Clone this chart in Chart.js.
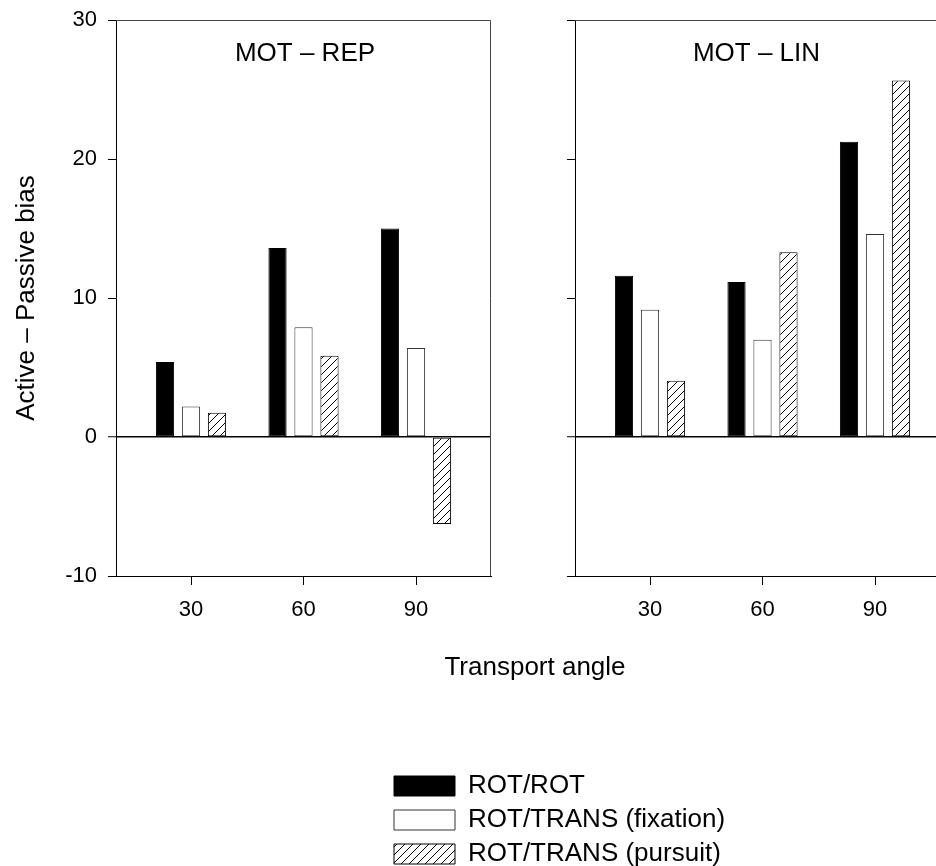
<!DOCTYPE html>
<html>
<head>
<meta charset="utf-8">
<script src="https://cdn.jsdelivr.net/npm/chart.js@4.4.0/dist/chart.umd.min.js"></script>
<style>
    html, body { margin: 0; padding: 0; background: #fff; overflow: hidden; width: 936px; height: 866px; }
    .panel { position: absolute; }
</style>
</head>
<body>
<div class="panel" style="left:0;top:0;width:500px;height:630px"><canvas id="repChart"></canvas></div>
<div class="panel" style="left:459px;top:0;width:500px;height:630px"><canvas id="linChart"></canvas></div>
<div class="panel" style="left:0;top:633px;width:936px;height:244px"><canvas id="legendChart"></canvas></div>
<script>
// values
const angles = [30, 60, 90];
const seriesLabels = ['ROT/ROT', 'ROT/TRANS (fixation)', 'ROT/TRANS (pursuit)'];

const repRotRot = [5.4, 13.6, 15.0];
const repFixation = [2.2, 7.9, 6.4];
const repPursuit = [1.75, 5.85, -6.25];

const linRotRot = [11.6, 11.15, 21.25];
const linFixation = [9.15, 7.0, 14.6];
const linPursuit = [4.05, 13.3, 25.65];

const yTicks = [-10, 0, 10, 20, 30];

Chart.defaults.font.family = "'Liberation Sans', Arial, sans-serif";
Chart.defaults.color = '#000';
Chart.defaults.animation = false;

const makeHatch = () => {
    const c = document.createElement('canvas');
    c.width = 8;
    c.height = 8;
    const g = c.getContext('2d');
    g.fillStyle = '#fff';
    g.fillRect(0, 0, 8, 8);
    g.strokeStyle = '#000';
    g.lineWidth = 1;
    g.beginPath();
    g.moveTo(0, 8); g.lineTo(8, 0);
    g.moveTo(-1, 1); g.lineTo(1, -1);
    g.moveTo(7, 9); g.lineTo(9, 7);
    g.stroke();
    return g.createPattern(c, 'repeat');
};
const hatch = makeHatch();

const styles = [
    { backgroundColor: '#000', borderColor: '#000' },
    { backgroundColor: '#fff', borderColor: '#333' },
    { backgroundColor: hatch, borderColor: '#000' }
];

const buildDatasets = (series) => series.map((vals, i) => ({
    label: seriesLabels[i],
    data: vals.map((v, j) => ({ x: angles[j], y: v })),
    backgroundColor: styles[i].backgroundColor,
    borderColor: styles[i].borderColor,
    borderWidth: 1,
    borderSkipped: false,
    categoryPercentage: 0.693,
    barPercentage: 0.7
}));

// top and right edges of the plot box
const framePlugin = {
    id: 'frame',
    beforeDatasetsDraw(chart) {
        const { ctx, chartArea: a } = chart;
        ctx.save();
        ctx.strokeStyle = '#444';
        ctx.lineWidth = 1;
        ctx.beginPath();
        ctx.moveTo(a.left, a.top + 0.5);
        ctx.lineTo(a.right - 0.5, a.top + 0.5);
        ctx.lineTo(a.right - 0.5, a.bottom);
        ctx.stroke();
        ctx.restore();
    }
};

const panelLabel = {
    id: 'panelLabel',
    afterDraw(chart, args, opts) {
        if (!opts.text) return;
        const { ctx, scales } = chart;
        ctx.save();
        ctx.font = "26px 'Liberation Sans', Arial, sans-serif";
        ctx.fillStyle = '#000';
        ctx.textAlign = 'center';
        ctx.textBaseline = 'middle';
        ctx.fillText(opts.text, scales.x.getPixelForValue(opts.at), scales.y.getPixelForValue(opts.level));
        ctx.restore();
    }
};

const panelOptions = (label, labelAt, showY) => ({
    responsive: true,
    maintainAspectRatio: false,
    layout: { padding: { top: 20, right: 9, left: 0, bottom: 0 } },
    plugins: {
        legend: { display: false },
        tooltip: { enabled: false },
        panelLabel: { text: label, at: labelAt, level: 27.6 }
    },
    scales: {
        x: {
            type: 'linear',
            min: 10,
            max: 110,
            offset: false,
            afterBuildTicks: (scale) => { scale.ticks = angles.map(v => ({ value: v })); },
            afterFit: (scale) => { scale.height = 54; },
            ticks: { font: { size: 22 }, padding: 12, callback: (v) => String(v) },
            grid: { display: true, offset: false, drawOnChartArea: false, drawTicks: true, tickLength: 9, tickColor: '#000', tickWidth: 1 },
            border: { display: true, color: '#000', width: 1 }
        },
        y: {
            min: -10,
            max: 30,
            afterBuildTicks: (scale) => { scale.ticks = yTicks.map(v => ({ value: v })); },
            afterFit: (scale) => {
                scale.width = 116;
                scale.paddingTop = 0;
                scale.paddingBottom = 0;
            },
            ticks: { display: showY, font: { size: 22 }, padding: 11 },
            grid: {
                drawOnChartArea: true,
                color: (c) => (c.tick && c.tick.value === 0 ? '#000' : 'rgba(0,0,0,0)'),
                lineWidth: (c) => (c.tick && c.tick.value === 0 ? 1.5 : 1),
                tickLength: 8,
                tickColor: '#000',
                tickWidth: 1
            },
            border: { display: true, color: '#000', width: 1 },
            title: {
                display: showY,
                text: 'Active \u2013 Passive bias',
                font: { size: 26 },
                padding: { top: 11, bottom: 0 }
            }
        }
    }
});

new Chart(document.getElementById('repChart'), {
    type: 'bar',
    data: { datasets: buildDatasets([repRotRot, repFixation, repPursuit]) },
    options: panelOptions('MOT \u2013 REP', 60.4, true),
    plugins: [framePlugin, panelLabel]
});

new Chart(document.getElementById('linChart'), {
    type: 'bar',
    data: { datasets: buildDatasets([linRotRot, linFixation, linPursuit]) },
    options: panelOptions('MOT \u2013 LIN', 58.4, false),
    plugins: [framePlugin, panelLabel]
});

// shared axis title and legend below both panels
new Chart(document.getElementById('legendChart'), {
    type: 'bar',
    data: {
        labels: [],
        datasets: seriesLabels.map((label, i) => ({
            label,
            data: [],
            backgroundColor: styles[i].backgroundColor,
            borderColor: styles[i].borderColor,
            borderWidth: 1
        }))
    },
    options: {
        responsive: true,
        maintainAspectRatio: false,
        layout: { padding: { left: 386, right: 176, top: 0, bottom: 0 } },
        scales: {
            x: {
                position: 'top',
                afterFit: (scale) => { scale.height = 54; },
                ticks: { display: false },
                grid: { display: false, drawTicks: false },
                border: { display: false },
                title: {
                    display: true,
                    text: 'Transport angle',
                    font: { size: 26 },
                    padding: { top: 19, bottom: 0 }
                }
            },
            y: {
                position: 'right',
                afterFit: (scale) => { scale.width = 76; },
                ticks: { display: false },
                grid: { display: false, drawTicks: false },
                border: { display: false }
            }
        },
        plugins: {
            tooltip: { enabled: false },
            legend: {
                position: 'bottom',
                align: 'start',
                labels: {
                    boxWidth: 61,
                    boxHeight: 20,
                    padding: 8,
                    font: { size: 26 },
                    color: '#000'
                }
            }
        }
    }
});
</script>
</body>
</html>
